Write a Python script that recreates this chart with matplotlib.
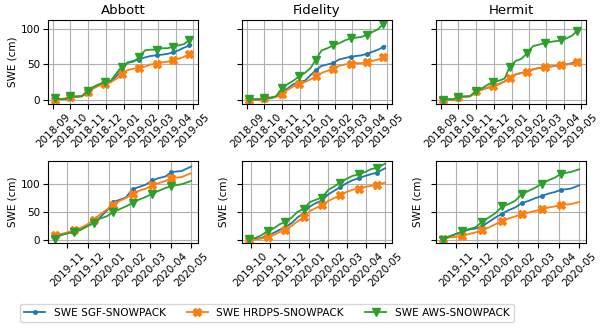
import matplotlib
matplotlib.use("Agg")
import matplotlib.pyplot as plt
import matplotlib.dates as mdates
import numpy as np
import pandas as pd

sites = ["Abbott", "Fidelity", "Hermit"]
series_names = ["SWE SGF-SNOWPACK", "SWE HRDPS-SNOWPACK", "SWE AWS-SNOWPACK"]

# ---- 2018-2019 season ----
dates_1819 = ["2018-09-04", "2018-09-13", "2018-09-22", "2018-10-01", "2018-10-11", "2018-10-21",
              "2018-11-01", "2018-11-10", "2018-11-20", "2018-11-30", "2018-12-10", "2018-12-20",
              "2018-12-29", "2019-01-08", "2019-01-18", "2019-01-28", "2019-02-07", "2019-02-17",
              "2019-02-27", "2019-03-09", "2019-03-18", "2019-03-27", "2019-04-06", "2019-04-16",
              "2019-04-25", "2019-04-28"]

abbott_1819_sgf = [1, 1, 1, 3, 4, 5, 14, 18, 22, 24, 26, 34, 42, 53, 55, 57, 60, 62, 63, 64, 65, 67, 70, 74, 77, 78]
abbott_1819_hrdps = [0, 1, 2, 4, 4, 5, 11, 16, 20, 22, 25, 30, 36, 42, 44, 45, 47, 50, 51, 53, 54, 56, 58, 61, 65, 66]
abbott_1819_aws = [2, 1, 1, 5, 5, 5, 13, 18, 22, 25, 27, 38, 47, 52, 54, 60, 70, 71, 71, 73, 73, 75, 77, 79, 85, 86]

fidelity_1819_sgf = [1, 0, 0, 1, 2, 4, 12, 16, 22, 25, 27, 35, 42, 48, 50, 52, 57, 59, 61, 62, 63, 65, 68, 71, 75, 76]
fidelity_1819_hrdps = [0, 0, 0, 3, 3, 4, 8, 14, 19, 22, 25, 29, 33, 38, 41, 44, 48, 50, 51, 52, 52, 53, 55, 57, 60, 61]
fidelity_1819_aws = [1, 1, 1, 3, 3, 5, 17, 22, 27, 33, 38, 45, 57, 70, 73, 77, 80, 84, 87, 88, 89, 92, 96, 100, 108, 109]

hermit_1819_sgf = [0, 0, 0, 4, 4, 5, 12, 14, 17, 19, 22, 26, 31, 36, 38, 40, 43, 45, 46, 47, 48, 49, 50, 52, 55, 57]
hermit_1819_hrdps = [0, 0, 0, 4, 4, 5, 12, 14, 17, 19, 22, 26, 31, 36, 38, 40, 43, 45, 46, 47, 48, 49, 50, 51, 53, 54]
hermit_1819_aws = [0, 1, 1, 4, 5, 5, 12, 16, 21, 25, 27, 30, 47, 55, 58, 66, 76, 78, 80, 82, 83, 84, 87, 91, 98, 99]

# ---- 2019-2020 season ----
dates_abbott_1920 = ["2019-10-14", "2019-10-23", "2019-11-01", "2019-11-11", "2019-11-20", "2019-11-30",
                     "2019-12-10", "2019-12-19", "2019-12-29", "2020-01-08", "2020-01-17", "2020-01-26",
                     "2020-02-05", "2020-02-14", "2020-02-24", "2020-03-05", "2020-03-14", "2020-03-24",
                     "2020-04-02", "2020-04-17", "2020-05-01"]
abbott_1920_sgf = [7, 9, 12, 15, 18, 24, 30, 40, 52, 68, 72, 76, 91, 95, 99, 107, 111, 114, 122, 124, 132]
abbott_1920_hrdps = [8, 10, 13, 17, 21, 27, 36, 45, 54, 63, 70, 75, 82, 88, 92, 98, 102, 106, 111, 113, 120]
abbott_1920_aws = [2, 8, 11, 14, 17, 24, 30, 38, 42, 50, 55, 60, 66, 72, 77, 83, 88, 93, 97, 100, 106]

dates_fidelity_1920 = ["2019-09-28", "2019-10-08", "2019-10-18", "2019-10-28", "2019-11-06", "2019-11-16",
                       "2019-11-25", "2019-12-05", "2019-12-14", "2019-12-24", "2020-01-03", "2020-01-12",
                       "2020-01-22", "2020-02-01", "2020-02-10", "2020-02-20", "2020-03-01", "2020-03-10",
                       "2020-03-20", "2020-03-30", "2020-04-08", "2020-04-18", "2020-05-01"]
fidelity_1920_sgf = [0, 1, 3, 8, 12, 18, 23, 30, 40, 48, 60, 66, 71, 82, 88, 95, 102, 107, 111, 115, 118, 121, 129]
fidelity_1920_hrdps = [0, 0, 2, 5, 8, 14, 18, 25, 33, 41, 52, 57, 62, 70, 75, 81, 86, 90, 92, 95, 97, 99, 103]
fidelity_1920_aws = [2, 3, 8, 16, 20, 28, 32, 40, 50, 56, 68, 72, 76, 90, 96, 103, 110, 115, 118, 122, 127, 130, 137]

dates_hermit_1920 = ["2019-10-12", "2019-10-22", "2019-10-31", "2019-11-10", "2019-11-19", "2019-11-29",
                     "2019-12-09", "2019-12-19", "2019-12-29", "2020-01-08", "2020-01-17", "2020-01-27",
                     "2020-02-06", "2020-02-16", "2020-02-26", "2020-03-07", "2020-03-16", "2020-03-26",
                     "2020-04-04", "2020-04-18", "2020-05-01"]
hermit_1920_sgf = [2, 6, 10, 14, 18, 20, 24, 32, 40, 47, 53, 58, 66, 70, 75, 79, 83, 86, 90, 92, 98]
hermit_1920_hrdps = [2, 4, 5, 7, 10, 13, 17, 22, 28, 34, 38, 42, 46, 49, 52, 55, 58, 60, 63, 64, 68]
hermit_1920_aws = [0, 6, 10, 15, 19, 22, 32, 40, 48, 60, 64, 70, 82, 88, 94, 101, 107, 112, 119, 122, 127]

panels = [
    [(dates_1819, abbott_1819_sgf, abbott_1819_hrdps, abbott_1819_aws),
     (dates_1819, fidelity_1819_sgf, fidelity_1819_hrdps, fidelity_1819_aws),
     (dates_1819, hermit_1819_sgf, hermit_1819_hrdps, hermit_1819_aws)],
    [(dates_abbott_1920, abbott_1920_sgf, abbott_1920_hrdps, abbott_1920_aws),
     (dates_fidelity_1920, fidelity_1920_sgf, fidelity_1920_hrdps, fidelity_1920_aws),
     (dates_hermit_1920, hermit_1920_sgf, hermit_1920_hrdps, hermit_1920_aws)],
]

colors = ["#1f77b4", "#ff7f0e", "#2ca02c"]
markers = [".", "X", "v"]
msizes = [5, 6, 6]

W, H = 600, 328
fig = plt.figure(figsize=(6.0, 3.28), dpi=100)

col_left = [48, 242, 436]
col_w = 150
row_top = [20, 161]
row_h = [84, 82]

FS_TICK = 7.5
axes = []
for r in range(2):
    row_axes = []
    for c in range(3):
        l = col_left[c] / W
        b = 1 - (row_top[r] + row_h[r]) / H
        kw = {}
        if c > 0:
            kw["sharey"] = row_axes[0]
        ax = fig.add_axes([l, b, col_w / W, row_h[r] / H], **kw)
        row_axes.append(ax)
        d, s1, s2, s3 = panels[r][c]
        dt = pd.to_datetime(d)
        for k, vals in enumerate([s1, s2, s3]):
            ax.plot(dt, vals, color=colors[k], marker=markers[k], markersize=msizes[k],
                    markevery=3, lw=1.3, label=series_names[k])
        ax.grid(True, color="#b0b0b0", lw=0.8)
        ax.xaxis.set_major_locator(mdates.MonthLocator())
        ax.xaxis.set_major_formatter(mdates.DateFormatter("%Y-%m"))
        ax.tick_params(axis="x", labelrotation=45, labelsize=FS_TICK, pad=2, length=3.5)
        ax.tick_params(axis="y", labelsize=FS_TICK, pad=2, length=3.5)
        if c > 0:
            ax.tick_params(axis="y", labelleft=False)
        if r == 0:
            ax.set_title(sites[c], fontsize=9.5, pad=4)
            if c == 0:
                ax.set_ylabel("SWE (cm)", fontsize=FS_TICK, labelpad=2)
        else:
            ax.set_ylabel("SWE (cm)", fontsize=FS_TICK, labelpad=2 if c == 0 else 6)
    axes.append(row_axes)

axes[0][0].set_yticks([0, 50, 100])
axes[0][0].set_ylim(-6, 113)
axes[1][0].set_yticks([0, 50, 100])
axes[1][0].set_ylim(-6, 142)

handles, labels = axes[0][0].get_legend_handles_labels()
fig.legend(handles, labels, loc="lower left", bbox_to_anchor=(20 / W, 6 / H), ncol=3,
           borderaxespad=0, fontsize=7.6, frameon=True, handlelength=2.0,
           columnspacing=2.0, borderpad=0.4)

fig.savefig("out.png", dpi=100)
